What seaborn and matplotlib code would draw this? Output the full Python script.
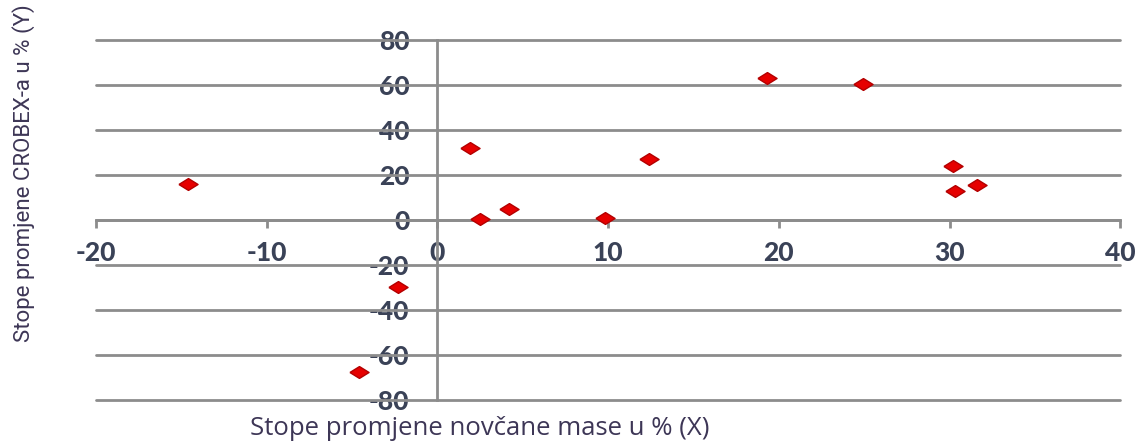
import matplotlib
matplotlib.use("Agg")
import matplotlib.pyplot as plt
import seaborn as sns
import pandas as pd

# money supply growth (X) vs CROBEX growth (Y), in %
money_growth = [-14.6, 1.9, 2.5, 4.2, 9.8, 12.4, 19.3, 24.9, 30.2, 30.3, 31.6, -2.3, -4.6]
crobex_growth = [16.0, 32.0, 0.4, 4.9, 0.9, 27.0, 63.0, 60.4, 24.0, 12.9, 15.6, -29.8, -67.6]
x_ticks = [-20, -10, 0, 10, 20, 30, 40]
y_ticks = [-80, -60, -40, -20, 0, 20, 40, 60, 80]

df = pd.DataFrame({'X': money_growth, 'Y': crobex_growth})

sns.set_style('white')
plt.rcParams['font.family'] = ['DejaVu Sans']

fig = plt.figure(figsize=(11.42, 4.43), dpi=100)
ax = fig.add_axes([0.084, 0.097, 0.897, 0.813])

grid_col = '#8c8c8c'
lbl_col = '#3a4257'

# flattened diamond marker
diamond = [(-1, 0), (0, 0.62), (1, 0), (0, -0.62), (-1, 0)]
sns.scatterplot(data=df, x='X', y='Y', ax=ax, marker=diamond, s=190,
                color='#e60000', edgecolor='#b30000', linewidth=1, zorder=5)

ax.set_xlim(-20, 40)
ax.set_ylim(-80, 80)
ax.set_xticks(x_ticks)
ax.set_yticks(y_ticks)

for y in y_ticks:
    ax.axhline(y, color=grid_col, lw=2, zorder=1, clip_on=False)

ax.spines['left'].set_position(('data', 0))
ax.spines['bottom'].set_position(('data', 0))
ax.spines['top'].set_visible(False)
ax.spines['right'].set_visible(False)
ax.spines['left'].set_color(grid_col)
ax.spines['bottom'].set_color(grid_col)
ax.spines['left'].set_linewidth(2)
ax.spines['bottom'].set_linewidth(2)

tick_font = dict(family='Lato', weight=900, size=19)
ax.set_xticklabels([str(t) for t in x_ticks], color=lbl_col, **tick_font)
ax.set_yticklabels([str(t) for t in y_ticks], color=lbl_col, **tick_font)
ax.tick_params(axis='x', bottom=True, direction='out', length=6, width=2,
               color=grid_col, pad=9)
ax.tick_params(axis='y', left=False, length=0, pad=20)

ax.set_xlabel('')
ax.set_ylabel('')
fig.text(0.42, 0.033, 'Stope promjene novčane mase u % (X)', ha='center', va='center',
         fontsize=18.5, color='#3d3656', family='Open Sans')
fig.text(0.021, 0.61, 'Stope promjene CROBEX-a u % (Y)', ha='center', va='center',
         rotation=90, fontsize=16, color='#3d3656', family='Roboto')

fig.savefig('out.png', dpi=100)
